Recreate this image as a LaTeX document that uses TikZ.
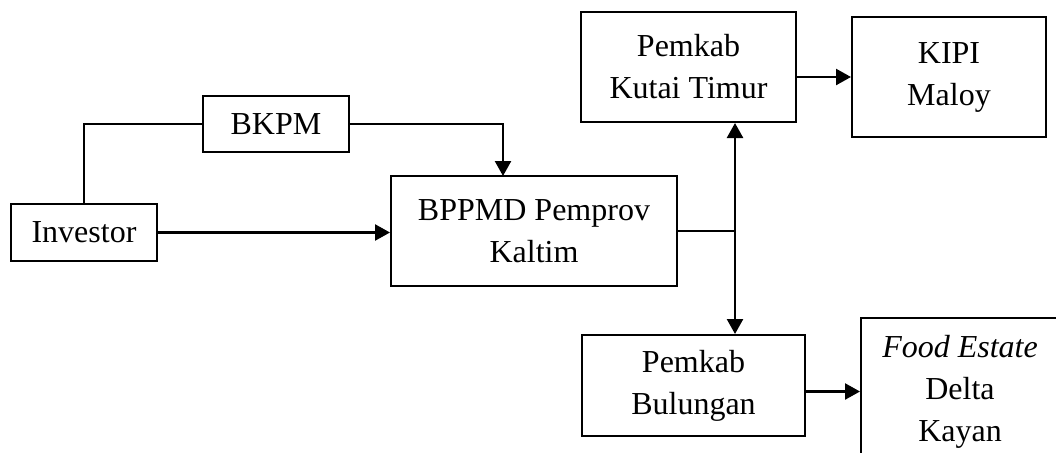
\documentclass[tikz,border=0pt]{standalone}
\usepackage{fontspec}
\setmainfont{Liberation Serif}
\usetikzlibrary{arrows.meta}
\begin{document}
\begin{tikzpicture}[x=1pt,y=-1pt,
  box/.style={draw,line width=2pt,align=center,inner sep=0pt,
    font=\fontsize{32}{42}\selectfont},
  plain/.style={line width=1.6pt},
  arr/.style={line width=2.4pt,-{Triangle[length=15pt,width=16pt]}},
  darr/.style={line width=2.4pt,{Triangle[length=15pt,width=16pt]}-{Triangle[length=15pt,width=16pt]}}]
\useasboundingbox (0,0) rectangle (1056,452);
\clip (0,0) rectangle (1056,452);
\node[box,minimum width=146pt,minimum height=57pt] (inv) at (84,232.5) {Investor};
\node[box,minimum width=146pt,minimum height=56pt] (bkpm) at (276,124) {BKPM};
\node[box,minimum width=286pt,minimum height=110pt] (bppmd) at (534,231) {BPPMD Pemprov\\Kaltim};
\node[box,minimum width=215pt,minimum height=110pt] (kutai) at (688.5,67) {Pemkab\\Kutai Timur};
\node[box,minimum width=194pt,minimum height=119pt] (kipi) at (949,77) {KIPI\\Maloy};
\node[box,minimum width=223pt,minimum height=101pt] (bul) at (693.5,385.5) {Pemkab\\Bulungan};
\node[box,minimum width=198pt,minimum height=147pt] (food) at (960,391.5) {\textit{Food Estate}\\Delta\\Kayan};
\coordinate (j) at (735,231);
\coordinate (bk) at (503,176);
\draw[plain] (inv.north) |- (bkpm.west);
\draw[arr] (bkpm.east) -| (bk);
\draw[arr] (inv.east) -- (inv.east -| bppmd.west);
\draw[plain] (bppmd.east) -- (j);
\draw[darr] (kutai.south -| j) -- (bul.north -| j);
\draw[arr] (kutai.east |- kipi.west) -- (kipi.west);
\draw[arr] (bul.east |- food.west) -- (food.west);
\end{tikzpicture}
\end{document}
